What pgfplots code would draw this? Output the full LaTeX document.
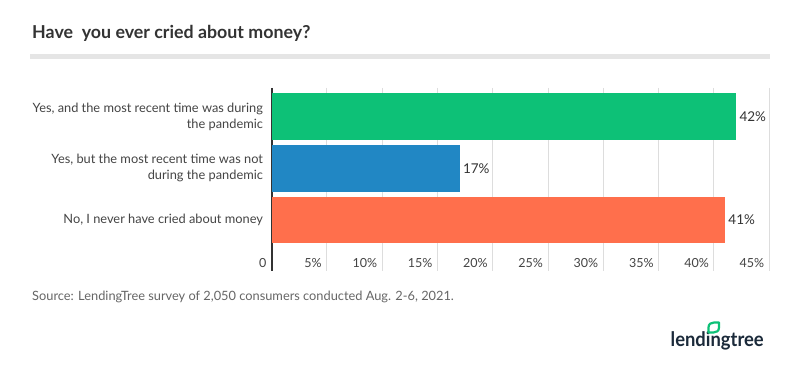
\documentclass[border=0pt]{standalone}
\usepackage{pgfplots}
\pgfplotsset{compat=1.18}
\usepackage{fontspec}
\setmainfont{Lato}
\definecolor{cgreen}{HTML}{0DC177}
\definecolor{cblue}{HTML}{2187C4}
\definecolor{corange}{HTML}{FF6F4C}
\definecolor{titlegray}{HTML}{333333}
\definecolor{labgray}{HTML}{444444}
\definecolor{srcgray}{HTML}{666666}
\definecolor{gridgray}{HTML}{DDDDDD}
\definecolor{rulegray}{HTML}{E5E5E5}
\definecolor{axisdark}{HTML}{333333}
\definecolor{navy}{HTML}{1B2A3A}
\begin{document}
\begin{tikzpicture}
\path[use as bounding box, fill=white] (0pt,0pt) rectangle (800pt,366pt);
% title
\node[anchor=base west, inner sep=0pt, text=titlegray, font=\fontsize{17.8}{20}\selectfont\bfseries] at (32pt,327pt) {Have\ \ you ever cried about money?};
\fill[rulegray] (30pt,307pt) rectangle (770pt,312pt);
\begin{axis}[
  at={(271.5pt,95pt)}, anchor=south west,
  scale only axis, width=497.7pt, height=183pt,
  xmin=0, xmax=45, ymin=-0.555, ymax=2.986,
  y dir=reverse,
  xbar, bar width=46.7pt,
  axis line style={draw=none},
  major tick length=0pt,
  xtick={0,5,10,15,20,25,30,35,40,45},
  xticklabels={0,5\%,10\%,15\%,20\%,25\%,30\%,35\%,40\%,45\%},
  xmajorgrids, grid style={color=gridgray, line width=1pt},
  extra x ticks={0}, extra x tick labels={},
  extra x tick style={grid style={color=axisdark, line width=2pt}},
  xticklabel style={anchor=east, xshift=-1.5pt, yshift=8pt, text=labgray, font=\fontsize{12.5}{15}\selectfont},
  ytick={0,1,2},
  yticklabels={{Yes, and the most recent time was during\\the pandemic},{Yes, but the most recent time was not\\during the pandemic},{No, I never have cried about money}},
  yticklabel style={align=right, xshift=-5pt, text=labgray, font=\fontsize{12.8}{16}\selectfont},
  nodes near coords={\pgfmathprintnumber[assume math mode=true]{\pgfplotspointmeta}\%},
  every node near coord/.append style={text=titlegray, font=\fontsize{13.5}{15}\selectfont, xshift=0pt},
]
\addplot[draw=none, fill=cgreen, bar shift=0pt] coordinates {(42,0)};
\addplot[draw=none, fill=cblue, bar shift=0pt] coordinates {(17,1)};
\addplot[draw=none, fill=corange, bar shift=0pt] coordinates {(41,2)};
\end{axis}
% source
\node[anchor=base west, inner sep=0pt, text=srcgray, font=\fontsize{12.8}{14}\selectfont] at (32pt,65pt) {Source: LendingTree survey of 2,050 consumers conducted Aug. 2-6, 2021.};
% logo
\node[anchor=base west, inner sep=0pt, text=navy, font=\fontsize{20}{22}\selectfont\bfseries, xscale=0.92] at (670.5pt,19pt) {lendingtree};
\draw[cgreen, line width=2.2pt, line join=round] (708.5pt,33.5pt) -- (708.5pt,38.5pt) .. controls (708.5pt,42pt) and (711pt,43.5pt) .. (714pt,43.5pt) -- (719pt,43.5pt) -- (719pt,38.5pt) .. controls (719pt,35pt) and (716.5pt,33.5pt) .. (713.5pt,33.5pt) -- cycle;
\end{tikzpicture}
\end{document}
